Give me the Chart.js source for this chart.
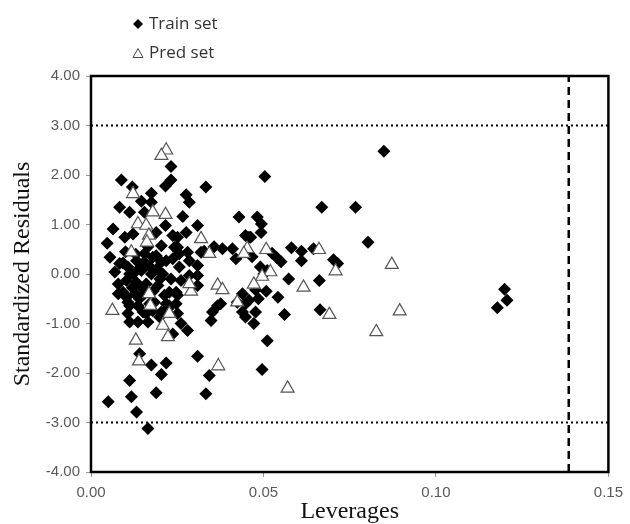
<!DOCTYPE html>
<html>
<head>
<meta charset="utf-8">
<script src="https://cdn.jsdelivr.net/npm/chart.js@4.4.1/dist/chart.umd.min.js"></script>
<style>
  html, body { margin: 0; padding: 0; background: #fff; }
  #wrap { position: relative; width: 630px; height: 524px; }
  #legend { position: absolute; left: 132px; top: 8px; font-family: "Open Sans", sans-serif; font-size: 17px; color: #333; line-height: 29px; }
  #legend svg { vertical-align: -1px; margin-right: 5px; }
</style>
</head>
<body>
<div id="wrap">
  <canvas id="myChart" width="630" height="524"></canvas>
  <div id="legend">
    <div><svg width="12" height="12"><polygon points="6,1 11,6 6,11 1,6" fill="#000"/></svg>Train set</div>
    <div><svg width="12" height="12"><polygon points="6,1.5 11,10.5 1,10.5" fill="none" stroke="#444" stroke-width="1"/></svg>Pred set</div>
  </div>
</div>
<script>
/* Williams plot: standardized residuals vs leverages */
const trainLev = [0.0849, 0.0504, 0.0669, 0.0767, 0.0482, 0.0494, 0.0493, 0.0803, 0.0463, 0.0581,
  0.0610, 0.0645, 0.0525, 0.0539, 0.0551, 0.0610, 0.0467, 0.0703, 0.0715, 0.0491,
  0.0511, 0.0573, 0.0662, 0.0477, 0.0508, 0.0485, 0.0542, 0.0664, 0.0561, 0.0472,
  0.0511, 0.0496, 0.1199, 0.1206, 0.1178, 0.0232, 0.0232, 0.0216, 0.0088, 0.0120,
  0.0333, 0.0175, 0.0146, 0.0276, 0.0285, 0.0175, 0.0083, 0.0112, 0.0155, 0.0266,
  0.0429, 0.0064, 0.0216, 0.0122, 0.0189, 0.0309, 0.0276, 0.0251, 0.0448, 0.0047,
  0.0204, 0.0357, 0.0381, 0.0410, 0.0328, 0.0242, 0.0055, 0.0093, 0.0132, 0.0155,
  0.0189, 0.0218, 0.0256, 0.0285, 0.0309, 0.0420, 0.0069, 0.0112, 0.0285, 0.0309,
  0.0309, 0.0079, 0.0103, 0.0112, 0.0227, 0.0251, 0.0247, 0.0218, 0.0151, 0.0179,
  0.0223, 0.0112, 0.0136, 0.0165, 0.0199, 0.0261, 0.0280, 0.0237, 0.0376, 0.0352,
  0.0348, 0.0439, 0.0448, 0.0448, 0.0141, 0.0175, 0.0218, 0.0204, 0.0309, 0.0343,
  0.0112, 0.0189, 0.0333, 0.0117, 0.0050, 0.0132, 0.0165, 0.0098, 0.0237, 0.0251,
  0.0083, 0.0107, 0.0155, 0.0179, 0.0204, 0.0237, 0.0256, 0.0122, 0.0146, 0.0175,
  0.0208, 0.0232, 0.0261, 0.0079, 0.0103, 0.0132, 0.0160, 0.0194, 0.0093, 0.0127,
  0.0155, 0.0213, 0.0247, 0.0107, 0.0136, 0.0184, 0.0227, 0.0160, 0.0204, 0.0251,
  0.0107, 0.0280, 0.0319, 0.0458, 0.0501, 0.0424, 0.0458, 0.0367, 0.0439, 0.0477,
  0.0141, 0.0170, 0.0190, 0.0120, 0.0150, 0.0180, 0.0200, 0.0130, 0.0165, 0.0100,
  0.0140, 0.0170];
const trainRes = [2.48, 1.97, 1.35, 1.35, 1.15, 1.01, 0.84, 0.64, 0.74, 0.53,
  0.46, 0.51, 0.42, 0.33, 0.25, 0.27, 0.35, 0.29, 0.21, 0.14,
  0.07, -0.10, -0.13, -0.32, -0.35, -0.50, -0.47, -0.72, -0.82, -1.00,
  -1.35, -1.93, -0.31, -0.53, -0.68, 2.17, 1.90, 1.78, 1.90, 1.76,
  1.76, 1.63, 1.47, 1.60, 1.45, 1.45, 1.35, 1.25, 1.25, 1.16,
  1.15, 0.91, 0.98, 0.81, 0.84, 0.98, 0.84, 0.74, 0.78, 0.62,
  0.57, 0.55, 0.51, 0.51, 0.46, 0.54, 0.34, 0.22, 0.27, 0.41,
  0.37, 0.27, 0.41, 0.27, 0.17, 0.31, 0.04, 0.00, -0.03, -0.03,
  -0.23, -0.40, -0.47, -0.64, -0.37, -0.43, -0.60, -0.60, -0.77, -0.74,
  -0.70, -0.97, -0.97, -0.97, -0.87, -1.00, -1.14, -1.21, -0.60, -0.77,
  -0.94, -0.40, -0.60, -0.87, -1.61, -1.84, -1.80, -2.03, -1.66, -2.05,
  -2.15, -2.40, -2.42, -2.48, -2.58, -2.79, -3.12, 0.74, 0.78, 0.54,
  0.21, 0.14, 0.24, 0.34, 0.24, 0.31, 0.14, 0.00, 0.07, 0.00,
  0.00, -0.10, -0.13, -0.20, -0.13, -0.17, -0.20, -0.23, -0.37, -0.40,
  -0.40, -0.43, -0.37, -0.57, -0.64, -0.57, -0.64, -0.80, -0.77, -0.80,
  -0.80, 0.44, 0.44, 0.74, 0.00, -0.57, -0.53, -0.64, -0.77, -0.77,
  0.12, 0.15, 0.10, -0.28, -0.30, -0.35, -0.10, 0.40, 0.55, 0.45,
  -0.50, -0.60];

const predLev = [0.0218, 0.0204, 0.0122, 0.0179, 0.0216, 0.0136, 0.0160, 0.0168, 0.0162, 0.0319,
  0.0343, 0.0117, 0.0453, 0.0508, 0.0443, 0.0661, 0.0520, 0.0496, 0.0709, 0.0872,
  0.0472, 0.0616, 0.0691, 0.0895, 0.0827, 0.0570, 0.0062, 0.0168, 0.0172, 0.0227,
  0.0208, 0.0223, 0.0130, 0.0139, 0.0369, 0.0367, 0.0381, 0.0290, 0.0424, 0.0285];
const predRes = [2.50, 2.39, 1.62, 1.25, 1.20, 1.01, 0.98, 0.78, 0.64, 0.71,
  0.41, 0.44, 0.51, 0.49, 0.41, 0.49, 0.04, -0.05, 0.06, 0.19,
  -0.21, -0.27, -0.82, -0.75, -1.17, -2.31, -0.74, -0.40, -0.64, -0.80,
  -1.04, -1.27, -1.34, -1.76, -1.86, -0.23, -0.32, -0.35, -0.57, -0.20];

// applicability domain limits
const residLimit = 3;
const hWarning = 0.1385;

const xTicks = [0, 0.05, 0.10, 0.15];
const yTicks = [-4, -3, -2, -1, 0, 1, 2, 3, 4];

const toPoints = (xs, ys) => xs.map((x, i) => ({ x: x, y: ys[i] }));

const framePlugin = {
  id: "frame",
  afterDraw(chart) {
    const a = chart.chartArea;
    const ctx = chart.ctx;
    ctx.save();
    ctx.strokeStyle = "#000";
    ctx.lineWidth = 2.5;
    ctx.strokeRect(a.left, a.top, a.right - a.left, a.bottom - a.top);
    ctx.restore();
  }
};

const tickFont = { family: "'Liberation Sans', Arial, sans-serif", size: 15 };
const titleFont = { family: "'Liberation Serif', 'Times New Roman', serif", size: 24, lineHeight: 1 };

const config = {
  type: "scatter",
  data: {
    datasets: [
      {
        label: "Pred set",
        data: toPoints(predLev, predRes),
        pointStyle: "triangle",
        pointRadius: 7.5,
        backgroundColor: "#fff",
        borderColor: "#555",
        borderWidth: 1.2,
        order: 0
      },
      {
        label: "Train set",
        data: toPoints(trainLev, trainRes),
        pointStyle: "rectRot",
        pointRadius: 6.5,
        backgroundColor: "#000",
        borderColor: "#000",
        borderWidth: 0,
        order: 1
      },
      {
        type: "line",
        data: [{ x: 0, y: residLimit }, { x: 0.15, y: residLimit }],
        borderColor: "#000",
        borderWidth: 2,
        borderDash: [2, 3],
        pointRadius: 0,
        order: 2
      },
      {
        type: "line",
        data: [{ x: 0, y: -residLimit }, { x: 0.15, y: -residLimit }],
        borderColor: "#000",
        borderWidth: 2,
        borderDash: [2, 3],
        pointRadius: 0,
        order: 2
      },
      {
        type: "line",
        data: [{ x: hWarning, y: -4 }, { x: hWarning, y: 4 }],
        borderColor: "#000",
        borderWidth: 2.5,
        borderDash: [8, 5],
        pointRadius: 0,
        order: 2
      }
    ]
  },
  options: {
    responsive: false,
    animation: false,
    layout: { padding: { left: 0, right: 14, top: 76, bottom: 0 } },
    plugins: { legend: { display: false }, tooltip: { enabled: false } },
    scales: {
      x: {
        type: "linear",
        min: 0,
        max: 0.15,
        afterBuildTicks: (s) => { s.ticks = xTicks.map(v => ({ value: v })); },
        afterFit: (s) => { s.height = 52; },
        border: { display: false },
        grid: { drawOnChartArea: false, drawTicks: true, tickLength: 5, color: "#999" },
        ticks: { padding: 7, color: "#595959", font: tickFont, callback: v => v.toFixed(2) },
        title: { display: true, text: "Leverages", color: "#111", font: titleFont, padding: { top: 0, bottom: 0 } }
      },
      y: {
        type: "linear",
        min: -4,
        max: 4,
        afterBuildTicks: (s) => { s.ticks = yTicks.map(v => ({ value: v })); },
        afterFit: (s) => { s.width = 91; },
        border: { display: false },
        grid: { drawOnChartArea: false, drawTicks: true, tickLength: 5, color: "#999" },
        ticks: { padding: 6, color: "#595959", font: tickFont, callback: v => v.toFixed(2) },
        title: { display: true, text: "Standardized Residuals", color: "#111", font: titleFont, padding: { top: 11, bottom: 0 } }
      }
    }
  },
  plugins: [framePlugin]
};

var myChart = new Chart(document.getElementById("myChart"), config);
</script>
</body>
</html>
